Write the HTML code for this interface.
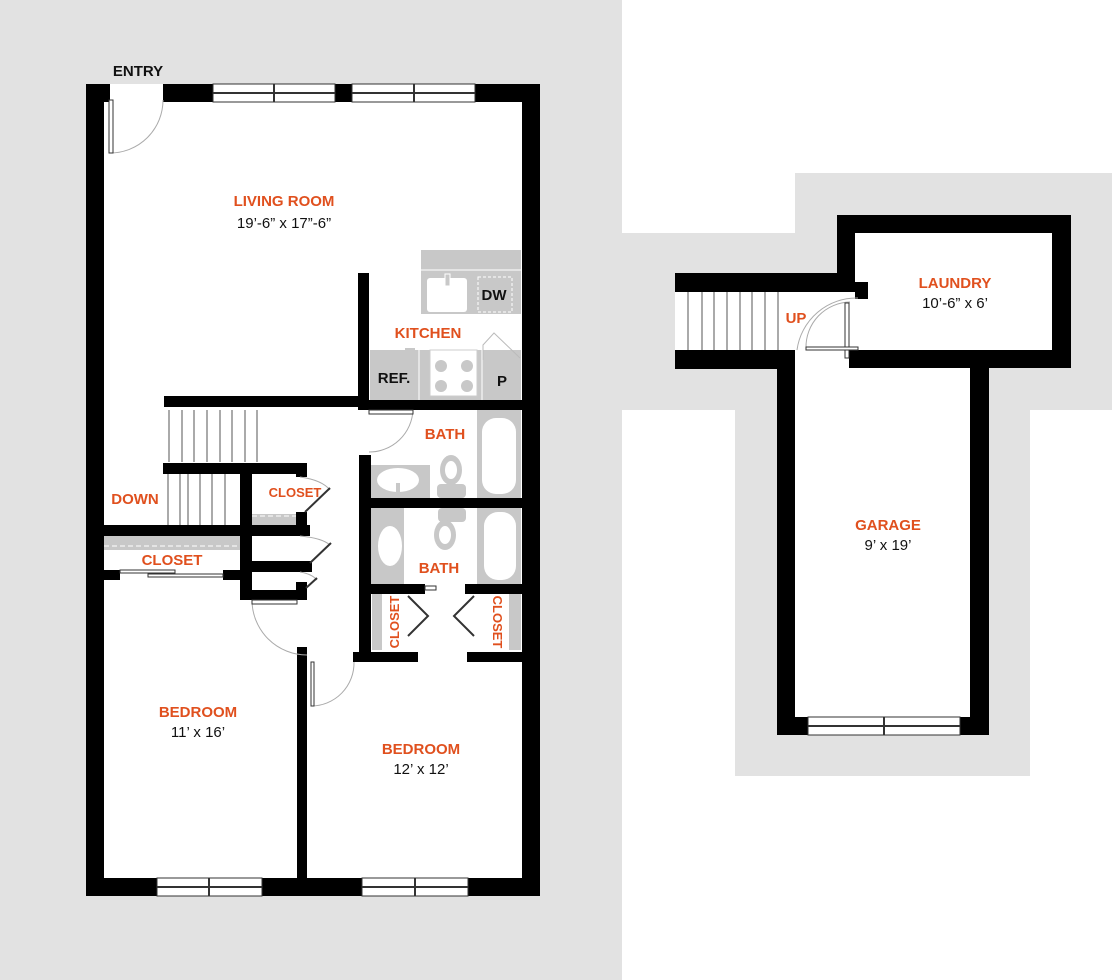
<!DOCTYPE html>
<html><head><meta charset="utf-8"><style>
html,body{margin:0;padding:0;background:#fff}
svg{display:block}
.o{fill:#e0501e;font-family:"Liberation Sans",sans-serif;font-weight:bold;font-size:15px;text-anchor:middle}
.d{fill:#111;font-family:"Liberation Sans",sans-serif;font-size:15px;text-anchor:middle}
.k{fill:#111;font-family:"Liberation Sans",sans-serif;font-weight:bold;font-size:15px;text-anchor:middle}
</style></head><body>
<svg width="1112" height="980" viewBox="0 0 1112 980" xmlns="http://www.w3.org/2000/svg">
<!-- backgrounds -->
<rect x="0" y="0" width="622" height="980" fill="#e2e2e2"/>
<polygon points="795,173 1112,173 1112,410 1030,410 1030,776 735,776 735,410 622,410 622,233 795,233" fill="#e2e2e2"/>
<!-- left plan interior -->
<rect x="86" y="84" width="454" height="812" fill="#fff"/>
<!-- kitchen counters -->
<rect x="421" y="250" width="100" height="64" fill="#c8c8c8"/>
<line x1="421" y1="270" x2="521" y2="270" stroke="#fff" stroke-width="1"/>
<rect x="427" y="278" width="40" height="34" rx="3" fill="#fff"/>
<rect x="445" y="274" width="5" height="12" fill="#c8c8c8" stroke="#fff"/>
<rect x="478" y="277" width="34" height="35" fill="none" stroke="#fff" stroke-dasharray="3,2"/>
<text class="k" x="494" y="300">DW</text>
<rect x="370" y="350" width="151" height="50" fill="#c8c8c8"/>
<rect x="405" y="348" width="10" height="4" fill="#c8c8c8"/>
<rect x="430" y="350" width="47" height="46" fill="#fff" stroke="#ccc"/>
<circle cx="441" cy="366" r="6" fill="#c8c8c8"/><circle cx="467" cy="366" r="6" fill="#c8c8c8"/>
<circle cx="441" cy="386" r="6" fill="#c8c8c8"/><circle cx="467" cy="386" r="6" fill="#c8c8c8"/>
<line x1="419" y1="350" x2="419" y2="400" stroke="#fff"/>
<line x1="482" y1="350" x2="482" y2="400" stroke="#fff"/>
<path d="M483 360 L483 345 L494 333 L520 358" fill="none" stroke="#bbb"/>
<text class="k" x="394" y="383">REF.</text>
<text class="k" x="502" y="386">P</text>
<!-- bath fixtures -->
<rect x="370" y="465" width="60" height="33" fill="#c8c8c8"/>
<ellipse cx="398" cy="480" rx="21" ry="12" fill="#fff"/>
<rect x="396" y="483" width="4" height="9" fill="#c8c8c8"/>
<rect x="477" y="410" width="44" height="88" fill="#c8c8c8"/>
<rect x="482" y="418" width="34" height="76" rx="14" fill="#fff"/>
<ellipse cx="451" cy="470" rx="11" ry="15" fill="#c8c8c8"/><ellipse cx="451" cy="470" rx="6" ry="9" fill="#fff"/>
<rect x="437" y="484" width="29" height="14" rx="4" fill="#c8c8c8"/>
<rect x="370" y="508" width="34" height="76" fill="#c8c8c8"/>
<ellipse cx="390" cy="546" rx="12" ry="20" fill="#fff"/>
<rect x="477" y="508" width="44" height="76" fill="#c8c8c8"/>
<rect x="484" y="512" width="32" height="68" rx="14" fill="#fff"/>
<rect x="438" y="508" width="28" height="14" rx="4" fill="#c8c8c8"/>
<ellipse cx="445" cy="535" rx="11" ry="15" fill="#c8c8c8"/><ellipse cx="445" cy="535" rx="6" ry="9" fill="#fff"/>
<!-- closets grey -->
<rect x="372" y="594" width="10" height="56" fill="#c8c8c8"/>
<rect x="509" y="594" width="12" height="56" fill="#c8c8c8"/>
<rect x="104" y="536" width="136" height="14" fill="#c8c8c8"/>
<line x1="104" y1="546" x2="240" y2="546" stroke="#fff" stroke-dasharray="5,3"/>
<rect x="252" y="514" width="50" height="11" fill="#c8c8c8"/>
<line x1="252" y1="516" x2="300" y2="516" stroke="#fff" stroke-dasharray="5,3"/>
<!-- stairs -->
<g stroke="#555" stroke-width="1">
<line x1="169" y1="410" x2="169" y2="462"/><line x1="182" y1="410" x2="182" y2="462"/><line x1="194" y1="410" x2="194" y2="462"/><line x1="207" y1="410" x2="207" y2="462"/><line x1="220" y1="410" x2="220" y2="462"/><line x1="232" y1="410" x2="232" y2="462"/><line x1="245" y1="410" x2="245" y2="462"/><line x1="257" y1="410" x2="257" y2="462"/>
<line x1="168" y1="474" x2="168" y2="525"/><line x1="180" y1="474" x2="180" y2="525"/><line x1="188" y1="474" x2="188" y2="525"/><line x1="200" y1="474" x2="200" y2="525"/><line x1="212" y1="474" x2="212" y2="525"/><line x1="225" y1="474" x2="225" y2="525"/>
</g>
<!-- walls -->
<g fill="#000">
<rect x="86" y="84" width="18" height="812"/>
<rect x="522" y="84" width="18" height="812"/>
<rect x="86" y="84" width="24" height="18"/>
<rect x="163" y="84" width="50" height="18"/>
<rect x="335" y="84" width="17" height="18"/>
<rect x="475" y="84" width="65" height="18"/>
<rect x="86" y="878" width="71" height="18"/>
<rect x="262" y="878" width="100" height="18"/>
<rect x="468" y="878" width="72" height="18"/>
<rect x="358" y="273" width="11" height="137"/>
<rect x="164" y="396" width="195" height="11"/>
<rect x="358" y="400" width="182" height="10"/>
<rect x="163" y="463" width="144" height="11"/>
<rect x="296" y="463" width="11" height="14"/>
<rect x="240" y="463" width="12" height="137"/>
<rect x="104" y="525" width="206" height="11"/>
<rect x="296" y="512" width="11" height="24"/>
<rect x="252" y="561" width="60" height="11"/>
<rect x="240" y="590" width="67" height="10"/>
<rect x="296" y="582" width="11" height="18"/>
<rect x="104" y="570" width="16" height="10"/>
<rect x="223" y="570" width="17" height="10"/>
<rect x="359" y="455" width="12" height="205"/>
<rect x="370" y="498" width="152" height="10"/>
<rect x="370" y="584" width="55" height="10"/>
<rect x="465" y="584" width="57" height="10"/>
<rect x="353" y="652" width="65" height="10"/>
<rect x="467" y="652" width="55" height="10"/>
<rect x="297" y="647" width="10" height="240"/>
</g>
<!-- windows top/bottom -->
<g fill="#fff" stroke="#333" stroke-width="1">
<rect x="213" y="84" width="122" height="18"/><rect x="352" y="84" width="123" height="18"/>
<rect x="157" y="878" width="105" height="18"/><rect x="362" y="878" width="106" height="18"/>
</g>
<g stroke="#333" stroke-width="2">
<line x1="213" y1="93" x2="335" y2="93"/><line x1="352" y1="93" x2="475" y2="93"/>
<line x1="157" y1="887" x2="262" y2="887"/><line x1="362" y1="887" x2="468" y2="887"/>
<line x1="274" y1="84" x2="274" y2="102"/><line x1="414" y1="84" x2="414" y2="102"/>
<line x1="209" y1="878" x2="209" y2="896"/><line x1="415" y1="878" x2="415" y2="896"/>
</g>
<!-- doors -->
<g fill="none" stroke="#aaa" stroke-width="1">
<path d="M110 153 A53 53 0 0 0 163 100"/>
<path d="M369 452 A44 44 0 0 0 413 410"/>
<path d="M252 600 A55 55 0 0 0 307 655"/>
<path d="M311 706 A43 43 0 0 0 354 662"/>
<path d="M300 477 Q322 480 330 490"/>
<path d="M300 536 Q322 538 330 545"/>
<path d="M300 572 Q312 574 317 580"/>
</g>
<g fill="#fff" stroke="#333" stroke-width="1">
<rect x="109" y="100" width="4" height="53"/>
<rect x="369" y="410" width="44" height="4"/>
<rect x="252" y="600" width="45" height="4"/>
<rect x="311" y="662" width="3" height="44"/>
<rect x="120" y="570" width="55" height="3"/><rect x="148" y="574" width="75" height="3"/>
<rect x="425" y="586" width="11" height="4"/>
</g>
<g stroke="#333" stroke-width="2" fill="none">
<line x1="305" y1="512" x2="330" y2="488"/>
<line x1="310" y1="563" x2="331" y2="543"/>
<line x1="306" y1="588" x2="317" y2="578"/>
<polyline points="408,596 428,616 408,636"/>
<polyline points="474,596 454,616 474,636"/>
</g>
<!-- right plan -->
<rect x="675" y="273" width="180" height="95" fill="#fff"/>
<rect x="795" y="350" width="180" height="385" fill="#fff"/>
<rect x="837" y="215" width="234" height="153" fill="#fff"/>
<g stroke="#555"><line x1="688" y1="292" x2="688" y2="350"/><line x1="702" y1="292" x2="702" y2="350"/><line x1="714" y1="292" x2="714" y2="350"/><line x1="727" y1="292" x2="727" y2="350"/><line x1="740" y1="292" x2="740" y2="350"/><line x1="752" y1="292" x2="752" y2="350"/><line x1="765" y1="292" x2="765" y2="350"/><line x1="778" y1="292" x2="778" y2="350"/></g>
<g fill="#000">
<rect x="837" y="215" width="234" height="18"/>
<rect x="837" y="215" width="18" height="77"/>
<rect x="1052" y="215" width="19" height="153"/>
<rect x="675" y="273" width="180" height="19"/>
<rect x="855" y="282" width="13" height="17"/>
<rect x="675" y="350" width="120" height="19"/>
<rect x="849" y="350" width="222" height="18"/>
<rect x="777" y="350" width="18" height="385"/>
<rect x="970" y="360" width="19" height="375"/>
<rect x="777" y="717" width="31" height="18"/>
<rect x="960" y="717" width="29" height="18"/>
</g>
<rect x="808" y="717" width="152" height="18" fill="#fff" stroke="#333"/>
<line x1="808" y1="726" x2="960" y2="726" stroke="#333" stroke-width="2"/>
<line x1="884" y1="717" x2="884" y2="735" stroke="#333" stroke-width="2"/>
<g fill="none" stroke="#aaa"><path d="M797 350 A60 60 0 0 1 858 298"/><path d="M806 348 A45 45 0 0 1 850 302"/></g>
<g fill="#fff" stroke="#333"><rect x="845" y="303" width="4" height="55"/><rect x="806" y="347" width="52" height="3"/></g>
<!-- labels -->
<text class="k" x="138" y="76">ENTRY</text>
<text class="o" x="284" y="206">LIVING ROOM</text>
<text class="d" x="284" y="228">19’-6” x 17”-6”</text>
<text class="o" x="428" y="338">KITCHEN</text>
<text class="o" x="445" y="439">BATH</text>
<text class="o" x="439" y="573">BATH</text>
<text class="o" x="295" y="497" style="font-size:13px">CLOSET</text>
<text class="o" x="172" y="565">CLOSET</text>
<text class="o" x="135" y="504">DOWN</text>
<text class="o" x="395" y="622" style="font-size:13px" transform="rotate(-90 395 622)" dy="4">CLOSET</text>
<text class="o" x="497" y="622" style="font-size:13px" transform="rotate(90 497 622)" dy="4">CLOSET</text>
<text class="o" x="198" y="717">BEDROOM</text>
<text class="d" x="198" y="737">11’ x 16’</text>
<text class="o" x="421" y="754">BEDROOM</text>
<text class="d" x="421" y="774">12’ x 12’</text>
<text class="o" x="796" y="323">UP</text>
<text class="o" x="955" y="288">LAUNDRY</text>
<text class="d" x="955" y="308">10’-6” x 6’</text>
<text class="o" x="888" y="530">GARAGE</text>
<text class="d" x="888" y="550">9’ x 19’</text>
</svg>
</body></html>
